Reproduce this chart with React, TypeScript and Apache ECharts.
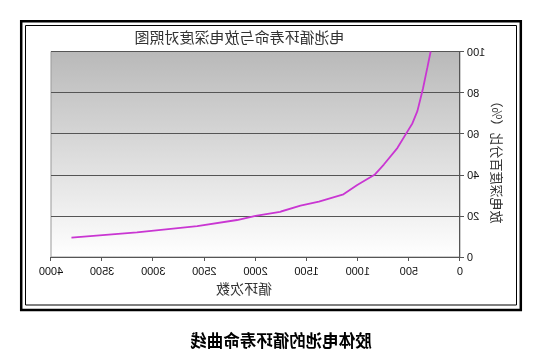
import React, { useEffect, useRef } from "react";
import * as echarts from "echarts";

const chartTitle = "电池循环寿命与放电深度对照图";
const xName = "循环次数";
const yName = "放电深度百分比（%）";
const caption = "胶体电池的循环寿命曲线";

const cycles = [3800, 3160, 2570, 2180, 2000, 1760, 1560, 1380, 1140, 1005, 836, 745, 613, 515, 466, 417, 362, 320, 287];
const depth = [9.4, 12, 15, 18, 20, 22, 25, 27, 30.5, 35, 40, 45, 53, 61, 65, 71, 82, 92, 100];

const FONT = "'Liberation Sans', Arial, 'Noto Sans CJK SC', sans-serif";
const CJK = "'Noto Sans CJK SC', 'Liberation Sans', sans-serif";

export default function App() {
  const ref = useRef<HTMLDivElement>(null);
  useEffect(() => {
    if (!ref.current) return;
    const chart = echarts.init(ref.current, undefined, { renderer: "svg" });
    const points = cycles.map((c, i) => [c, depth[i]]);
    chart.setOption({
      animation: false,
      backgroundColor: "#ffffff",
      textStyle: { fontFamily: FONT },
      grid: {
        left: 76,
        right: 51,
        top: 51.5,
        bottom: 107,
        show: true,
        borderColor: "#9a9a9a",
        borderWidth: 1,
        backgroundColor: new echarts.graphic.LinearGradient(0, 0, 0, 1, [
          { offset: 0, color: "#b9b9b9" },
          { offset: 1, color: "#ffffff" },
        ]),
      },
      xAxis: {
        type: "value",
        min: 0,
        max: 4000,
        interval: 500,
        axisLine: { show: true, onZero: false, lineStyle: { color: "#555", width: 1 } },
        axisTick: { show: true, length: 4, lineStyle: { color: "#555" } },
        axisLabel: {
          color: "#111",
          fontSize: 11,
          margin: 8,
          fontFamily: FONT,
          formatter: (v: number) => String(v),
        },
        splitLine: { show: false },
      },
      yAxis: {
        type: "value",
        min: 0,
        max: 100,
        interval: 20,
        axisLine: { show: true, lineStyle: { color: "#555", width: 1 } },
        axisTick: { show: true, length: 4, lineStyle: { color: "#555" } },
        axisLabel: {
          color: "#111",
          fontSize: 11,
          margin: 7,
          fontFamily: FONT,
          formatter: (v: number) => String(v),
        },
        splitLine: { show: true, lineStyle: { color: "#555", width: 1 } },
      },
      series: [
        {
          type: "line",
          data: points,
          showSymbol: false,
          symbol: "none",
          smooth: false,
          clip: true,
          lineStyle: { color: "#c936d2", width: 1.8 },
        },
      ],
      graphic: [
        {
          type: "rect",
          shape: { x: 15.2, y: 21.2, width: 499.6, height: 288.8 },
          style: { fill: "none", stroke: "#000", lineWidth: 2.5 },
          silent: true,
        },
        {
          type: "rect",
          shape: { x: 19.5, y: 25.5, width: 491, height: 279.5 },
          style: { fill: "none", stroke: "#000", lineWidth: 1 },
          silent: true,
        },
        {
          type: "text",
          x: 296.5,
          y: 36,
          style: {
            text: chartTitle,
            fontSize: 15,
            fontFamily: CJK,
            fill: "#333",
            align: "center",
            verticalAlign: "middle",
          },
        },
        {
          type: "text",
          x: 292,
          y: 288,
          style: {
            text: xName,
            fontSize: 14,
            fontFamily: CJK,
            fill: "#333",
            align: "center",
            verticalAlign: "middle",
          },
        },
        {
          type: "text",
          x: 38,
          y: 159,
          rotation: Math.PI / 2,
          style: {
            text: yName,
            fontSize: 13,
            fontFamily: CJK,
            fill: "#333",
            align: "center",
            verticalAlign: "middle",
          },
        },
        {
          type: "text",
          x: 255,
          y: 340,
          style: {
            text: caption,
            fontSize: 16.5,
            fontWeight: "bold",
            fontFamily: CJK,
            fill: "#000",
            align: "center",
            verticalAlign: "middle",
          },
        },
      ],
    });
    return () => chart.dispose();
  }, []);
  return (
    <div
      ref={ref}
      style={{
        position: "fixed",
        left: 0,
        top: 0,
        width: 536,
        height: 364,
        transform: "scaleX(-1)",
        background: "#fff",
      }}
    />
  );
}
